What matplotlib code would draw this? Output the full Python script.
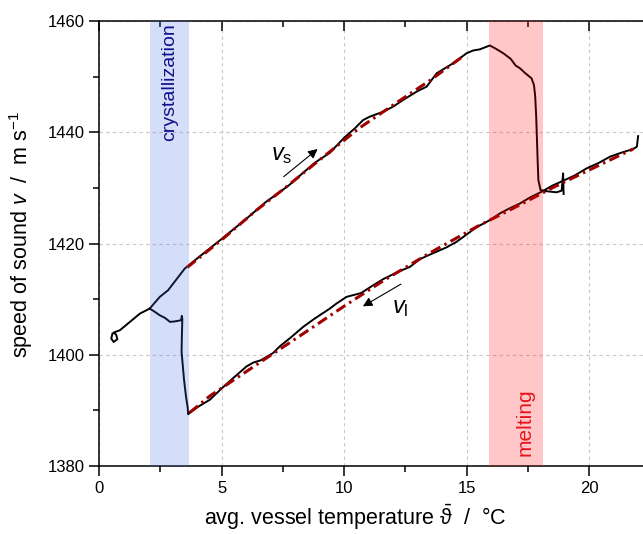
import numpy as np
import matplotlib
matplotlib.use("Agg")
import matplotlib.pyplot as plt
from matplotlib.ticker import MultipleLocator

plt.rcParams['font.family'] = ['Liberation Sans', 'DejaVu Sans']
plt.rcParams['mathtext.fontset'] = 'custom'
plt.rcParams['mathtext.rm'] = 'Liberation Sans'
plt.rcParams['mathtext.it'] = 'Liberation Sans:italic'
plt.rcParams['mathtext.fallback'] = 'stixsans'

# heating run: solid state up to melting, then liquid to 22 degC
heat_T = [0.55, 0.5, 0.6, 0.75, 0.7, 0.6, 0.85, 1.26, 1.67, 2.07, 2.48, 2.82, 3.5,
          4.0, 4.66, 5.0, 5.5, 6.0, 6.82, 7.3, 7.76, 8.3, 8.8, 9.42, 10.0, 10.44,
          10.78, 11.05, 11.6, 12.0, 12.41, 12.96, 13.37, 13.78, 14.45, 15.0, 15.27,
          15.54, 15.95, 16.2, 16.5, 16.8, 17.0, 17.18, 17.4, 17.65, 17.75, 17.8,
          17.84, 17.87, 17.9, 17.93, 18.02, 18.27, 18.67, 18.88, 18.94, 18.96]
heat_v = [1403.8, 1402.9, 1402.3, 1402.8, 1403.6, 1404.0, 1404.4, 1405.9, 1407.4,
          1408.3, 1410.4, 1411.6, 1415.5, 1417.3, 1419.6, 1420.8, 1422.6, 1424.4,
          1427.5, 1429.0, 1430.5, 1432.6, 1434.5, 1436.3, 1439.0, 1440.7, 1442.2,
          1442.8, 1443.7, 1444.6, 1445.8, 1447.3, 1448.2, 1450.6, 1452.4, 1454.2,
          1454.7, 1454.9, 1455.6, 1455.0, 1454.2, 1453.2, 1452.0, 1451.5, 1450.6,
          1449.7, 1448.5, 1446.5, 1443.0, 1439.0, 1435.0, 1431.4, 1429.6, 1429.4,
          1429.2, 1429.5, 1432.6, 1428.9]

# cooling run: liquid branch down to supercooling, then crystallization jump
cool_T = [22.0, 21.95, 21.8, 21.3, 20.85, 20.4, 19.9, 19.4, 18.9, 18.5, 18.06,
          17.6, 17.18, 16.7, 16.36, 15.95, 15.82, 15.4, 14.59, 14.18, 13.5, 13.1,
          12.69, 12.2, 11.6, 11.19, 10.7, 10.1, 9.69, 9.42, 8.8, 8.33, 7.8, 7.4,
          7.1, 6.6, 6.3, 6.02, 5.5, 5.02, 4.52, 4.1, 3.7, 3.64, 3.62, 3.55, 3.47,
          3.42, 3.37, 3.38, 3.4, 3.38, 3.35, 3.1, 2.9, 2.7, 2.48, 2.25, 2.07]
cool_v = [1439.3, 1437.4, 1437.0, 1436.3, 1435.6, 1434.5, 1433.5, 1432.2, 1431.2,
          1430.4, 1429.3, 1428.3, 1427.2, 1426.2, 1425.4, 1424.2, 1423.9, 1422.9,
          1420.3, 1419.3, 1418.0, 1417.2, 1415.8, 1414.9, 1413.6, 1412.5, 1411.1,
          1410.4, 1409.2, 1408.3, 1406.5, 1405.0, 1403.0, 1401.6, 1400.3, 1399.0,
          1398.6, 1397.9, 1395.9, 1394.0, 1391.9, 1390.8, 1389.6, 1389.3, 1390.5,
          1392.5, 1395.5, 1398.0, 1400.5, 1403.0, 1406.4, 1407.0, 1406.2, 1406.0,
          1405.9, 1406.6, 1407.1, 1407.8, 1408.3]

# fitted solid (v_s) and liquid (v_l) lines
fit_s_T = [3.6, 5.07, 6.43, 7.65, 8.74, 9.76, 10.64, 12.14, 13.5, 14.9]
fit_s_v = [1415.7, 1420.9, 1426.0, 1430.2, 1434.1, 1437.7, 1440.8, 1445.3, 1449.3, 1453.8]
fit_l_T = [3.7, 4.53, 6.56, 7.93, 9.96, 11.6, 13.5, 15.41, 17.2, 18.5, 20.0, 21.8]
fit_l_v = [1389.6, 1392.6, 1398.6, 1402.6, 1408.6, 1413.3, 1418.3, 1423.0, 1427.0,
           1430.0, 1433.2, 1437.0]

cryst_span = (2.07, 3.66)
melt_span = (15.92, 18.1)

fig = plt.figure(figsize=(6.43, 5.34), dpi=100)
ax = fig.add_axes([99 / 643, 1 - 466 / 534, 544 / 643, 445 / 534])

ax.plot(heat_T, heat_v, color='black', lw=1.4, zorder=3)
ax.plot(cool_T, cool_v, color='black', lw=1.4, zorder=3)
ax.plot(fit_s_T, fit_s_v, color='#a00000', lw=2.2, dashes=(3.5, 1.5, 0.8, 1.5), zorder=4)
ax.plot(fit_l_T, fit_l_v, color='#a00000', lw=2.2, dashes=(3.5, 1.5, 0.8, 1.5), zorder=4)

# shaded phase-change regions drawn over the lines
ax.axvspan(*cryst_span, color='royalblue', alpha=0.22, lw=0, zorder=5)
ax.axvspan(*melt_span, color='red', alpha=0.22, lw=0, zorder=5)

ax.text(sum(cryst_span) / 2, 1449, 'crystallization', rotation=90, color='#10108a',
        fontsize=14, ha='center', va='center', zorder=6)
ax.text(17.38, 1387.8, 'melting', rotation=90, color='#e8141c',
        fontsize=15, ha='center', va='center', zorder=6)

# direction arrows
ax.annotate('', xy=(9.01, 1437.3), xytext=(7.45, 1431.7),
            arrowprops=dict(arrowstyle='-|>', color='black', lw=0.8,
                            mutation_scale=14), zorder=6)
ax.text(7.46, 1436.0, r'$v_\mathrm{s}$', fontsize=17, ha='center', va='center')
ax.annotate('', xy=(10.67, 1408.45), xytext=(12.42, 1412.95),
            arrowprops=dict(arrowstyle='-|>', color='black', lw=0.8,
                            mutation_scale=14), zorder=6)
ax.text(12.3, 1408.4, r'$v_\mathrm{l}$', fontsize=17, ha='center', va='center')

ax.set_xlim(0, 22.2)
ax.set_ylim(1380, 1460)
ax.xaxis.set_major_locator(MultipleLocator(5))
ax.xaxis.set_minor_locator(MultipleLocator(2.5))
ax.yaxis.set_major_locator(MultipleLocator(20))
ax.yaxis.set_minor_locator(MultipleLocator(10))

ax.spines['right'].set_visible(False)
for s in ['left', 'bottom', 'top']:
    ax.spines[s].set_linewidth(1.1)
ax.tick_params(which='both', direction='out', top=False, right=False, width=1.1, labelsize=12)
ax.tick_params(which='major', length=7)
ax.tick_params(which='minor', length=4)
ax.tick_params(axis='x', which='both', top=True, labeltop=False)
# top ticks point inward
for t in ax.xaxis.get_major_ticks() + ax.xaxis.get_minor_ticks():
    t.tick2line.set_marker(matplotlib.lines.TICKDOWN)

ax.grid(True, which='major', color='#c8c8c8', lw=0.8, ls=(0, (3, 3)))
ax.set_axisbelow(True)

ax.set_xlabel(r'avg. vessel temperature $\bar{\mathrm{\vartheta}}$  /  °C', fontsize=15.5)
ax.xaxis.set_label_coords(0.47, -0.083)
ax.set_ylabel(r'speed of sound $v$  /  m s$^{-1}$', fontsize=15.5)
ax.yaxis.set_label_coords(-0.118, 0.52)

fig.savefig('out.png', dpi=100)
